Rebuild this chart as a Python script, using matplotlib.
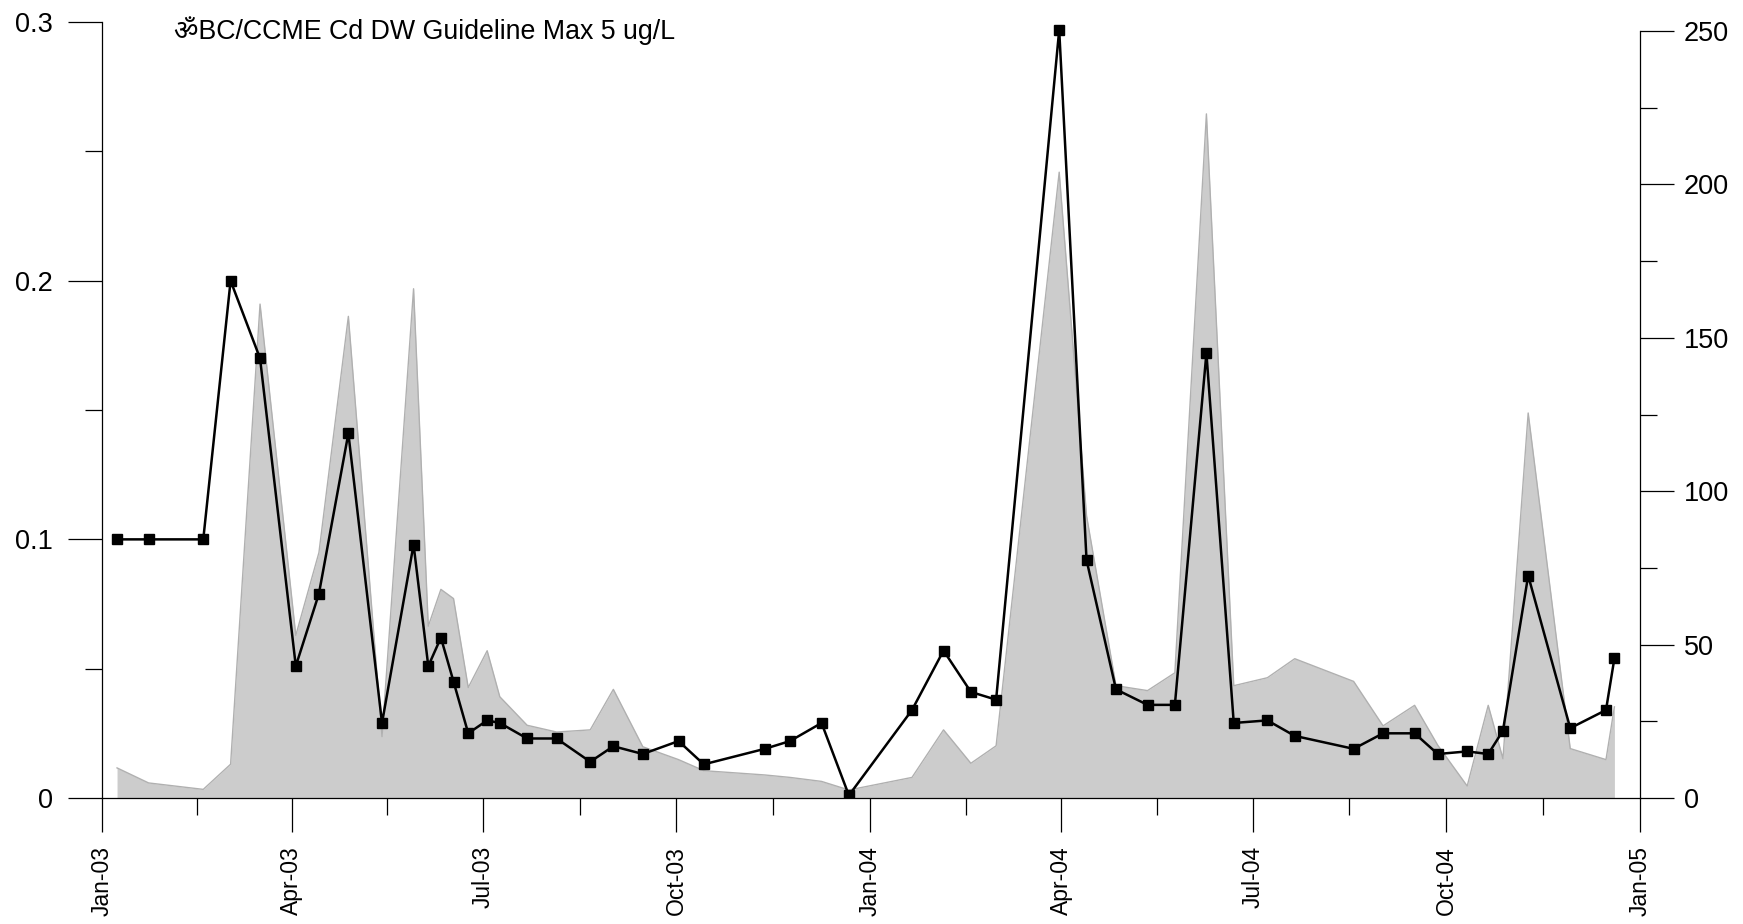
"""
Cd in drinking water vs. second parameter, 2003-2004.
Black squares = Cd (mg/L, left axis), grey area = right-axis series.
"""

import pandas as pd
import matplotlib
matplotlib.use("Agg")
import matplotlib.pyplot as plt
import matplotlib.dates as mdates
import matplotlib.ticker as mticker

# ── Data ──────────────────────────────────────────────────────────────────────
SAMPLE_DATES = [
    "2003-01-08", "2003-01-23", "2003-02-18", "2003-03-03", "2003-03-17",
    "2003-04-03", "2003-04-14", "2003-04-28", "2003-05-14", "2003-05-29",
    "2003-06-05", "2003-06-11", "2003-06-17", "2003-06-24", "2003-07-03",
    "2003-07-09", "2003-07-22", "2003-08-05", "2003-08-21", "2003-09-01",
    "2003-09-15", "2003-10-02", "2003-10-14", "2003-11-12", "2003-11-24",
    "2003-12-09", "2003-12-22", "2004-01-21", "2004-02-05", "2004-02-18",
    "2004-03-01", "2004-03-31", "2004-04-13", "2004-04-27", "2004-05-12",
    "2004-05-25", "2004-06-09", "2004-06-22", "2004-07-08", "2004-07-21",
    "2004-08-18", "2004-09-01", "2004-09-16", "2004-09-27", "2004-10-11",
    "2004-10-21", "2004-10-28", "2004-11-09", "2004-11-29", "2004-12-16",
    "2004-12-20",
]

CD = [
    0.100, 0.100, 0.100, 0.200, 0.170, 0.051, 0.079, 0.141, 0.029, 0.098,
    0.051, 0.062, 0.045, 0.025, 0.030, 0.029, 0.023, 0.023, 0.014, 0.020,
    0.017, 0.022, 0.013, 0.019, 0.022, 0.029, 0.001, 0.034, 0.057, 0.041,
    0.038, 0.297, 0.092, 0.042, 0.036, 0.036, 0.172, 0.029, 0.030, 0.024,
    0.019, 0.025, 0.025, 0.017, 0.018, 0.017, 0.026, 0.086, 0.027, 0.034,
    0.054,
]

SECOND = [
    9.8, 4.9, 2.8, 11.0, 161.0, 53.0, 80.0, 157.0, 20.0, 166.0,
    56.0, 68.0, 65.0, 36.0, 48.0, 33.0, 23.7, 21.5, 22.2, 35.4,
    16.7, 12.5, 8.9, 7.5, 6.7, 5.4, 2.6, 6.7, 22.2, 11.3,
    17.0, 204.0, 92.0, 36.6, 35.0, 40.8, 223.0, 36.6, 39.2, 45.4,
    38.0, 23.5, 30.2, 17.2, 3.9, 30.2, 12.8, 125.5, 16.1, 12.5,
    29.7,
]

TITLE = "\u0950BC/CCME Cd DW Guideline Max 5 ug/L"

# ── Style ─────────────────────────────────────────────────────────────────────
FILL   = "#cccccc"
EDGE   = "#b0b0b0"
FS_Y   = 19.5
FS_X   = 16.5
MAJ    = 24.5
MIN    = 12.2

plt.rcParams.update({
    "font.family": ["Liberation Sans", "DejaVu Sans", "Noto Sans"],
    "font.size": FS_Y,
    "axes.linewidth": 0.9,
})


def main():
    dates = pd.to_datetime(SAMPLE_DATES)

    fig = plt.figure(figsize=(17.43, 9.24), dpi=100)
    ax = fig.add_axes([0.0587, 0.1364, 0.882, 0.8396])
    ax_r = ax.twinx()
    ax.set_zorder(ax_r.get_zorder() + 1)
    ax.patch.set_visible(False)

    # grey area on the right axis
    ax_r.fill_between(dates, SECOND, 0, color=FILL, linewidth=0)
    ax_r.plot(dates, SECOND, color=EDGE, linewidth=1.0)

    # Cd line on the left axis
    ax.plot(dates, CD, color="black", linewidth=1.8, marker="s",
            markersize=6.8, markerfacecolor="black", markeredgecolor="black")

    x0, x1 = pd.Timestamp("2003-01-01"), pd.Timestamp("2005-01-01")
    ax.set_xlim(x0, x1)
    ax.set_ylim(0, 0.3)
    ax_r.set_ylim(0, 252.9)

    # spines, R style
    for s in ("top", "right"):
        ax.spines[s].set_visible(False)
    for s in ("top", "left", "bottom"):
        ax_r.spines[s].set_visible(False)
    ax.spines["left"].set_bounds(0, 0.3)
    ax_r.spines["right"].set_bounds(0, 250)

    # x axis
    majors = pd.date_range(x0, x1, freq="QS")
    mids = [a + (b - a) / 2 for a, b in zip(majors[:-1], majors[1:])]
    ax.xaxis.set_major_locator(mticker.FixedLocator(mdates.date2num(majors)))
    ax.xaxis.set_minor_locator(mticker.FixedLocator(mdates.date2num(mids)))
    ax.xaxis.set_major_formatter(mdates.DateFormatter("%b-%y"))
    ax.tick_params(axis="x", which="major", length=MAJ, width=0.9,
                   labelrotation=90, pad=10, labelsize=FS_X)
    ax.tick_params(axis="x", which="minor", length=MIN, width=0.9)

    # left y axis
    ax.yaxis.set_major_locator(mticker.MultipleLocator(0.1))
    ax.yaxis.set_minor_locator(mticker.MultipleLocator(0.05))
    ax.yaxis.set_major_formatter(mticker.FuncFormatter(lambda v, _: f"{v:g}"))
    ax.tick_params(axis="y", which="major", length=MAJ, width=0.9, pad=11,
                   labelsize=FS_Y)
    ax.tick_params(axis="y", which="minor", length=MIN, width=0.9)

    # right y axis
    ax_r.yaxis.set_major_locator(mticker.MultipleLocator(50))
    ax_r.yaxis.set_minor_locator(mticker.MultipleLocator(25))
    ax_r.tick_params(axis="y", which="major", length=MAJ, width=0.9, pad=7.5,
                     labelsize=FS_Y)
    ax_r.tick_params(axis="y", which="minor", length=MIN, width=0.9)

    fig.text(0.1, 1 - 39 / 924, TITLE, fontsize=19.3, ha="left", va="baseline")

    fig.savefig("out.png", dpi=100, facecolor="white")


if __name__ == "__main__":
    main()
